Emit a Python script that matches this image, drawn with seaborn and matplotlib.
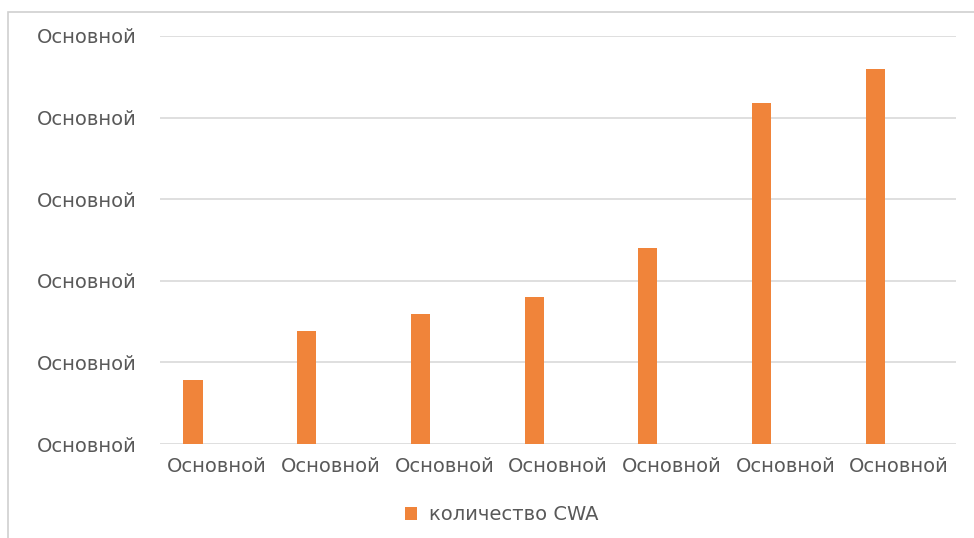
import pandas as pd
import matplotlib
matplotlib.use("Agg")
import matplotlib.pyplot as plt
from matplotlib.patches import Patch, Rectangle
import seaborn as sns

# Data (Excel "General" placeholders as labels)
categories = ["c1", "c2", "c3", "c4", "c5", "c6", "c7"]
cat_labels = ["Основной"] * 7
cwa_values = [0.78, 1.38, 1.59, 1.80, 2.40, 4.18, 4.59]
empty_values = [0] * 7  # second, empty series in the Excel chart
y_ticks = [0, 1, 2, 3, 4, 5]
y_labels = ["Основной"] * 6
series_name = "количество CWA"
empty_name = "пусто"

bar_color = "#F0843A"
text_color = "#595959"
grid_color = "#D9D9D9"

df = pd.concat([
    pd.DataFrame({"cat": categories, "value": cwa_values, "series": series_name}),
    pd.DataFrame({"cat": categories, "value": empty_values, "series": empty_name}),
])

sns.set_theme(style="white")
plt.rcParams['font.family'] = ['DejaVu Sans']

fig = plt.figure(figsize=(9.74, 5.38), dpi=100)
ax = fig.add_axes([160 / 974, 1 - 444 / 538, (956 - 160) / 974, (444 - 36) / 538])

sns.barplot(data=df, x="cat", y="value", hue="series",
            hue_order=[series_name, empty_name],
            palette=[bar_color, "white"], width=0.84, gap=0.6,
            order=categories, ax=ax, legend=False, saturation=1,
            linewidth=0, errorbar=None)

ax.set_ylim(0, 5)
ax.set_xlim(-0.5, len(categories) - 0.5)
ax.set_yticks(y_ticks)
ax.set_yticklabels(y_labels)
ax.set_xticks(range(len(categories)))
ax.set_xticklabels(cat_labels)
ax.set_xlabel("")
ax.set_ylabel("")
ax.tick_params(axis="both", length=0, labelsize=14, colors=text_color)
ax.tick_params(axis="y", pad=17)
ax.tick_params(axis="x", pad=9)
ax.yaxis.grid(True, color=grid_color, linewidth=1.2)
ax.set_axisbelow(True)
for s in ["top", "right", "left", "bottom"]:
    ax.spines[s].set_visible(False)

handles = [Patch(facecolor=bar_color, edgecolor="none", label=series_name)]
fig.legend(handles=handles, loc="center", bbox_to_anchor=(0.515, 1 - 515 / 538),
           frameon=False, fontsize=14, labelcolor=text_color,
           handlelength=0.6, handleheight=0.6, handletextpad=0.6)

# chart area border
fig.patches.append(Rectangle((8 / 974, -0.1), 1.2, 1 - 12 / 538 + 0.1,
                             transform=fig.transFigure, fill=False,
                             edgecolor="#D0D0D0", linewidth=1.2))

fig.savefig("out.png", dpi=100)
